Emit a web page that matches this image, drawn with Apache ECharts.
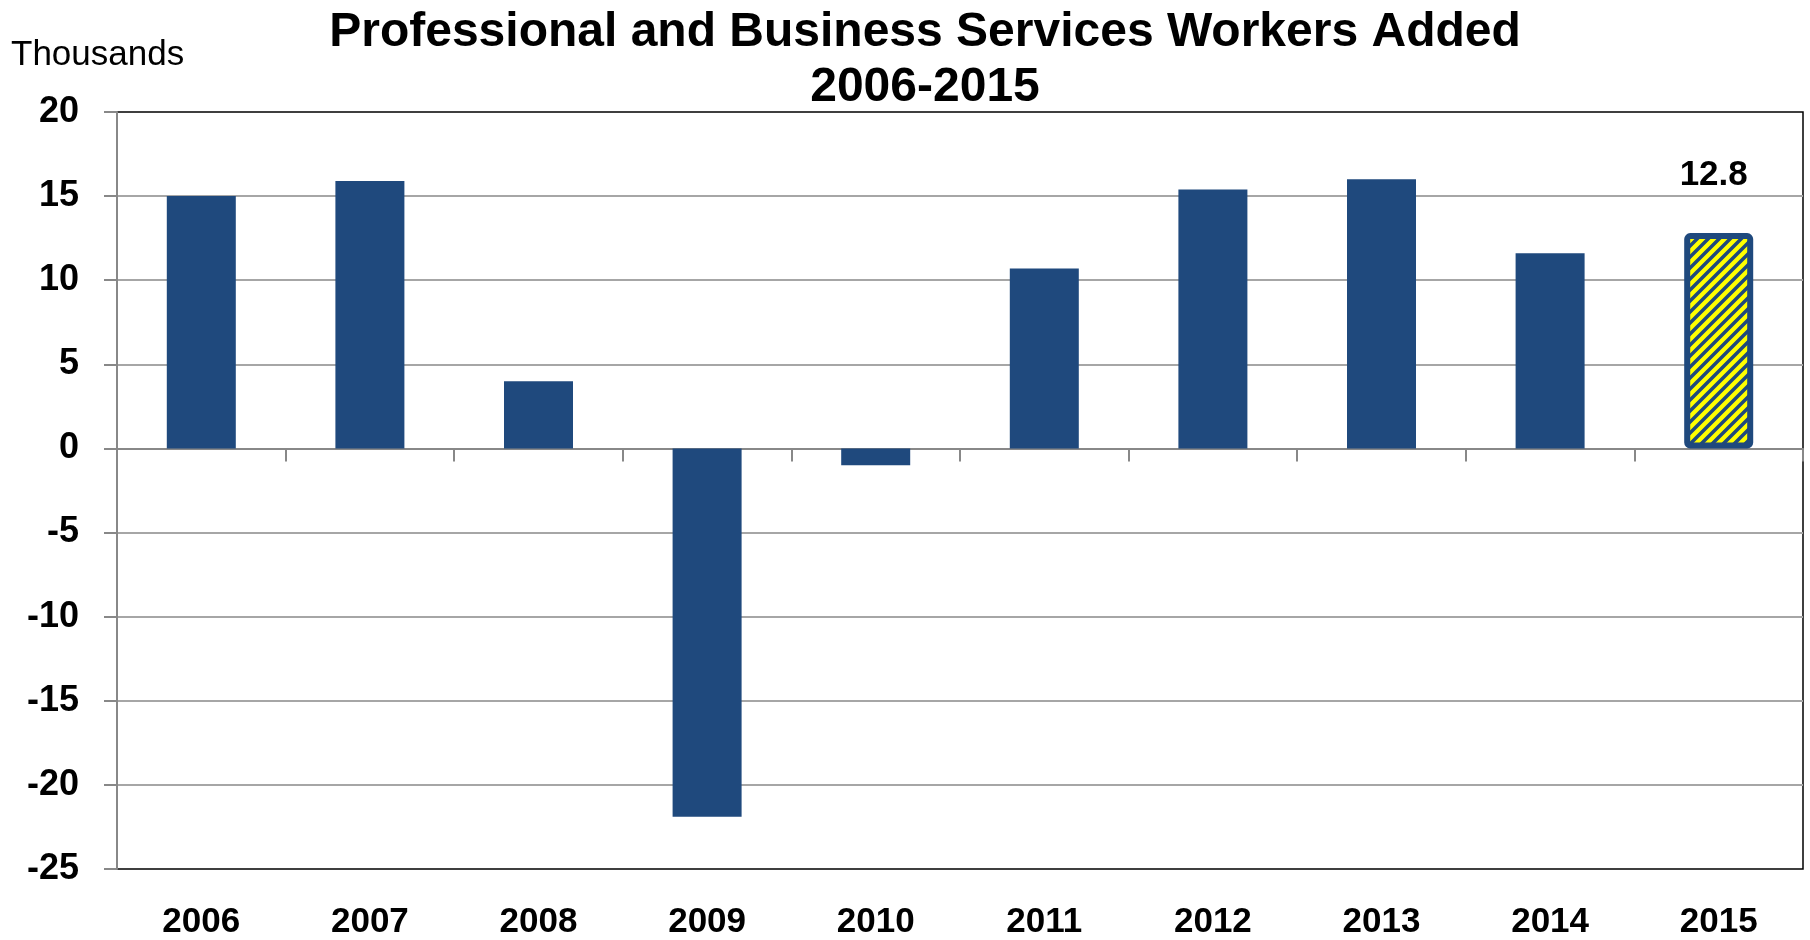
<!DOCTYPE html>
<html>
<head>
<meta charset="utf-8">
<script src="https://cdn.jsdelivr.net/npm/echarts@6/dist/echarts.min.js"></script>
<style>
html,body{margin:0;padding:0;background:#fff;}
#chart{width:1810px;height:940px;}
</style>
</head>
<body>
<div id="chart"></div>
<script>
var years = ['2006','2007','2008','2009','2010','2011','2012','2013','2014','2015'];
var workersAdded = [15.0, 15.9, 4.0, -21.9, -1.0, 10.7, 15.4, 16.0, 11.6, 12.8];
var yTicks = {min: -25, max: 20, interval: 5};
var titleText = 'Professional and Business Services Workers Added';
var subtitleText = '2006-2015';
var unitText = 'Thousands';
var highlightLabel = '12.8';

var NARROW = "'Liberation Sans Narrow', 'Arial Narrow', 'Liberation Sans', Arial, sans-serif";
var SANS = "'Liberation Sans', Arial, sans-serif";
var BLUE = '#1F497D';

// striped pattern for the highlighted (last) bar
var tile = document.createElement('canvas');
var s = 11;
tile.width = s; tile.height = s;
var ctx = tile.getContext('2d');
ctx.fillStyle = '#FFFF00';
ctx.fillRect(0, 0, s, s);
ctx.strokeStyle = BLUE;
ctx.lineWidth = 3.5;
ctx.beginPath();
ctx.moveTo(-2, s + 2); ctx.lineTo(s + 2, -2);
ctx.moveTo(-2, 2); ctx.lineTo(2, -2);
ctx.moveTo(s - 2, s + 2); ctx.lineTo(s + 2, s - 2);
ctx.stroke();

var seriesData = workersAdded.map(function (v, i) {
  if (i === workersAdded.length - 1) {
    return {
      value: v,
      itemStyle: {
        color: {image: tile, repeat: 'repeat'},
        borderColor: BLUE,
        borderWidth: 6,
        borderRadius: 3
      },
      label: {
        show: true,
        position: 'top',
        distance: 40,
        offset: [-5, 0],
        formatter: highlightLabel,
        fontFamily: NARROW,
        fontWeight: 'bold',
        fontSize: 35,
        color: '#000'
      }
    };
  }
  return v;
});

var chart = echarts.init(document.getElementById('chart'));
chart.setOption({
  backgroundColor: '#fff',
  animation: false,
  title: [{
    text: titleText + '\n' + subtitleText,
    left: 920,
    textAlign: 'center',
    top: 0,
    textStyle: {
      fontFamily: SANS,
      fontWeight: 'bold',
      fontSize: 48,
      lineHeight: 55,
      color: '#000'
    }
  }, {
    text: unitText,
    left: 6,
    top: 30,
    textStyle: {
      fontFamily: NARROW,
      fontWeight: 'normal',
      fontSize: 35,
      lineHeight: 40,
      color: '#000'
    }
  }],
  grid: {
    left: 117, right: 7, top: 112, bottom: 71,
    show: true,
    borderColor: '#000',
    borderWidth: 1.5,
    backgroundColor: 'transparent'
  },
  xAxis: [{
    type: 'category',
    data: years,
    position: 'bottom',
    axisLine: {show: false, onZero: false},
    axisTick: {show: false},
    axisLabel: {
      margin: 36,
      fontFamily: NARROW,
      fontWeight: 'bold',
      fontSize: 35,
      color: '#000'
    },
    splitLine: {show: false}
  }, {
    type: 'category',
    data: years,
    position: 'bottom',
    axisLine: {show: true, onZero: true, lineStyle: {color: '#888', width: 2}},
    axisTick: {show: true, length: 13, lineStyle: {color: '#888', width: 2}},
    axisLabel: {show: false},
    splitLine: {show: false}
  }],
  yAxis: {
    type: 'value',
    min: yTicks.min,
    max: yTicks.max,
    interval: yTicks.interval,
    axisLine: {show: true, lineStyle: {color: '#888', width: 2}},
    axisTick: {show: true, length: 13, lineStyle: {color: '#888', width: 2}},
    axisLabel: {
      margin: 38,
      fontFamily: NARROW,
      fontWeight: 'bold',
      fontSize: 36,
      color: '#000'
    },
    splitLine: {show: true, showMinLine: false, showMaxLine: false, lineStyle: {color: '#A6A6A6', width: 2}}
  },
  series: [{
    type: 'bar',
    xAxisIndex: 0,
    data: seriesData,
    barWidth: 69,
    itemStyle: {color: BLUE},
    z: 3
  }]
});
</script>
</body>
</html>
